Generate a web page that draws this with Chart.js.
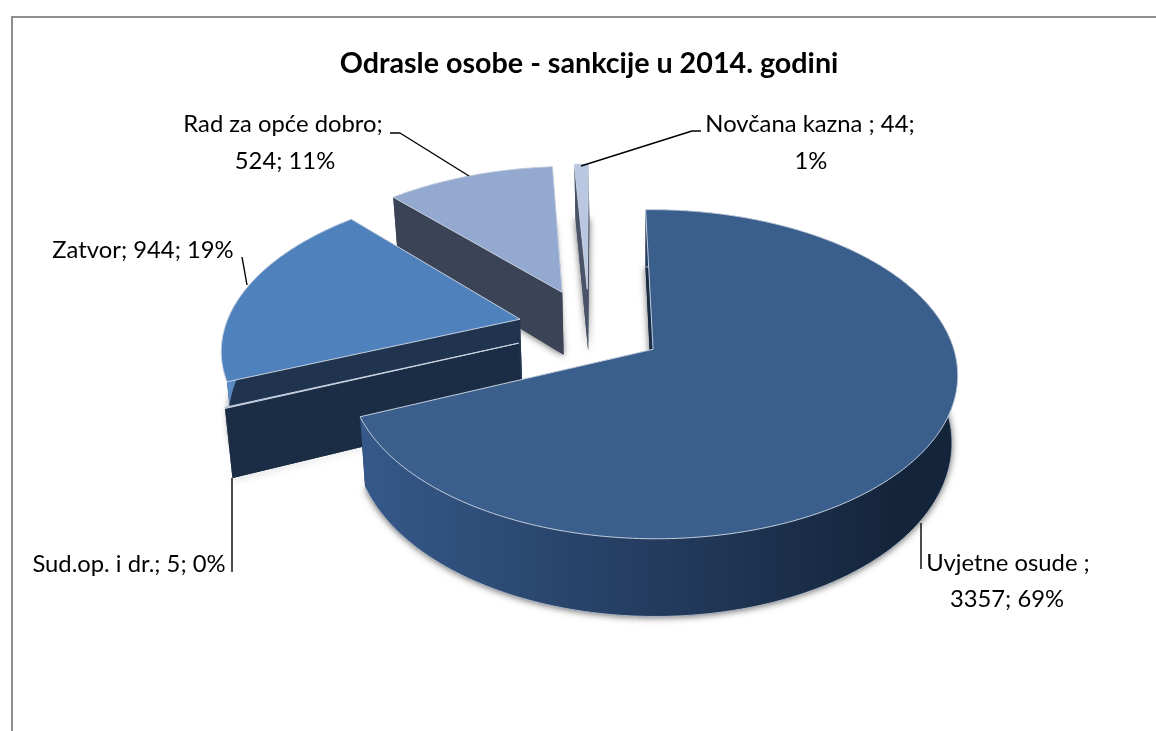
<!DOCTYPE html>
<html><head><meta charset="utf-8">
<script src="https://cdn.jsdelivr.net/npm/chart.js@4"></script>
<style>
html,body{margin:0;padding:0;background:#fff;overflow:hidden;width:1156px;height:731px}
#frame{position:absolute;left:11px;top:16px;width:1200px;height:800px;border:2px solid #8e8e8e;box-sizing:border-box}
canvas{position:absolute;left:0;top:0}
</style></head><body>
<div id="frame"></div>
<canvas id="c" width="1156" height="731"></canvas>
<script>
const chartTitle = 'Odrasle osobe - sankcije u 2014. godini';
const categories = ['Uvjetne osude ', 'Sud.op. i dr.', 'Zatvor', 'Rad za opće dobro', 'Novčana kazna '];
const values = [3357, 5, 944, 524, 44];
const topColors = ['#3A5F8C', '#8FA6CC', '#4F81BD', '#93A9CF', '#B9C8E0'];
const faceColors = ['#1A2D47', '#1B2D44', '#20344F', '#3B4356', '#4A5468'];
const wallLeft = ['#36598A', '#1B2D44', '#5A8AC4', '#3B4356', '#4A5468'];
const wallRight = ['#14243A', '#1B2D44', '#4A78B0', '#3B4356', '#4A5468'];
const lineBreakAfter = [1, 3, 3, 1, 2];
const labelSpots = [[[1008, 563], [1007, 599]], [[129, 564]], [[143, 250]], [[283, 124], [285, 161]], [[810, 124], [811, 161]]];
const leaders = [[[921, 523], [921, 569]], [[232, 478], [232, 572]], [[242, 257], [247, 285]], [[390, 133], [400, 133], [469, 176]], [[701, 131], [692, 131], [581, 166]]];

// view of the tilted pie
const K = 0.1515, AX = 301, AY = 161, XV = 638, Y0 = 350, XC = -0.166, YC = 0.1436, EXPLODE = 0.257, DEPTH = 66, CONV = 0.018;
const sliceShiftX = [0, 1, 4, 1, 0], sliceRadius = [1, 0.98, 1, 1, 1];
const project = (X, Y) => { const w = 1 + K * Y; return { x: XV + AX * X / w, y: Y0 - AY * Y / w, w }; };
const below = p => ({ x: XV + (p.x - XV) * (1 - CONV), y: p.y + DEPTH / p.w });

function tracePoly(ctx, pts) {
  ctx.beginPath();
  pts.forEach((p, i) => i ? ctx.lineTo(p.x, p.y) : ctx.moveTo(p.x, p.y));
  ctx.closePath();
}

const pie3d = {
  id: 'pie3d',
  beforeDatasetsDraw(chart) {
    const ctx = chart.ctx;
    const arcs = chart.getDatasetMeta(0).data;
    const total = values.reduce((a, b) => a + b, 0);
    // far slices first
    [4, 3, 2, 1, 0].forEach(i => {
      const el = arcs[i], s = el.startAngle, e = el.endAngle, mid = (s + e) / 2;
      const cx = XC + EXPLODE * Math.cos(mid), cy = YC - EXPLODE * Math.sin(mid);
      const place = p => ({ x: p.x + sliceShiftX[i], y: p.y, w: p.w });
      const apex = place(project(cx, cy));
      const n = Math.max(2, Math.ceil((e - s) / 0.01));
      const rim = [];
      for (let k = 0; k <= n; k++) {
        const a = s + (e - s) * k / n;
        rim.push(place(project(cx + sliceRadius[i] * Math.cos(a), cy - sliceRadius[i] * Math.sin(a))));
      }
      const low = rim.map(below), lowApex = below(apex);
      // bottom face carries the soft shadow
      ctx.save();
      ctx.shadowColor = 'rgba(0,0,0,0.6)'; ctx.shadowBlur = 7; ctx.shadowOffsetY = 1;
      ctx.fillStyle = faceColors[i];
      tracePoly(ctx, [lowApex, ...low]); ctx.fill();
      ctx.restore();
      // cut faces
      ctx.fillStyle = faceColors[i];
      tracePoly(ctx, [apex, rim[0], low[0], lowApex]); ctx.fill();
      tracePoly(ctx, [apex, rim[n], low[n], lowApex]); ctx.fill();
      // outer wall
      const g = ctx.createLinearGradient(360, 0, 900, 0);
      g.addColorStop(0, wallLeft[i]); g.addColorStop(1, wallRight[i]);
      ctx.fillStyle = g;
      tracePoly(ctx, [...rim, ...low.slice().reverse()]); ctx.fill();
      if (i === 0) {
        ctx.strokeStyle = 'rgba(190,198,210,0.9)'; ctx.lineWidth = 1;
        ctx.beginPath();
        low.forEach((p, k) => k ? ctx.lineTo(p.x, p.y) : ctx.moveTo(p.x, p.y));
        ctx.stroke();
      }
      // top face
      ctx.fillStyle = topColors[i];
      tracePoly(ctx, [apex, ...rim]); ctx.fill();
      ctx.strokeStyle = 'rgba(205,214,228,0.95)'; ctx.lineWidth = 1;
      ctx.lineJoin = 'round';
      tracePoly(ctx, [apex, ...rim]); ctx.stroke();
    });
    // leaders
    ctx.strokeStyle = '#000'; ctx.lineWidth = 1.4;
    leaders.forEach(l => {
      ctx.beginPath();
      l.forEach((p, k) => k ? ctx.lineTo(p[0], p[1]) : ctx.moveTo(p[0], p[1]));
      ctx.stroke();
    });
    // labels
    ctx.fillStyle = '#000'; ctx.textAlign = 'center'; ctx.textBaseline = 'middle';
    ctx.font = '23.8px Lato';
    categories.forEach((c, i) => {
      const parts = [c + ';', values[i] + ';', Math.round(values[i] / total * 100) + '%'];
      const cut = lineBreakAfter[i];
      const lines = cut < 3 ? [parts.slice(0, cut).join(' '), parts.slice(cut).join(' ')] : [parts.join(' ')];
      lines.forEach((t, k) => ctx.fillText(t, labelSpots[i][k][0], labelSpots[i][k][1]));
    });
    return false;
  }
};

new Chart(document.getElementById('c'), {
  type: 'pie',
  data: { labels: categories, datasets: [{ data: values, backgroundColor: topColors }] },
  plugins: [pie3d],
  options: {
    responsive: false, animation: false, rotation: -1.2,
    layout: { padding: { left: 22, top: 47 } },
    plugins: {
      legend: { display: false }, tooltip: { enabled: false },
      title: { display: true, text: chartTitle, color: '#000', font: { family: 'Lato', size: 28.7, weight: 'bold' }, padding: 0 }
    }
  }
});
</script>
</body></html>
